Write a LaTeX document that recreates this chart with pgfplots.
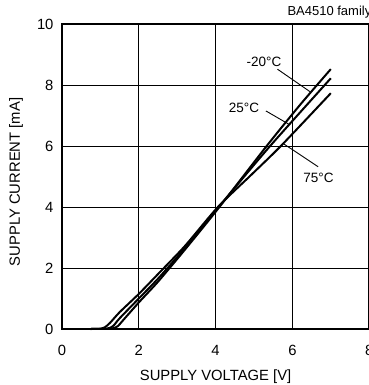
\documentclass[border=0pt]{standalone}
\usepackage{fontspec}
\setmainfont{Liberation Sans}
\usepackage{pgfplots}
\pgfplotsset{compat=1.18}
\begin{document}
\begin{tikzpicture}
\begin{axis}[
  name=ax,
  scale only axis,
  width=307.2pt, height=305pt,
  xmin=0, xmax=8, ymin=0, ymax=10,
  xtick={0,2,4,6,8}, ytick={0,2,4,6,8,10},
  grid=major,
  major grid style={black, line width=0.7pt},
  axis line style={line width=2.2pt},
  tick style={black, line width=0.7pt},
  tick align=inside,
  major tick length=4pt,
  font=\fontsize{14.8}{17}\selectfont,
  /pgf/number format/assume math mode=true,
  xticklabel style={yshift=-13pt},
  yticklabel style={xshift=-5pt},
  xlabel={SUPPLY VOLTAGE [V]},
  ylabel={SUPPLY CURRENT [mA]},
  xlabel style={at={(axis description cs:0.5,0)}, anchor=north, yshift=-37pt},
  ylabel style={at={(axis description cs:-0.1497,0.482)}, anchor=center},
  clip=false,
]
% -20 C
\addplot[black, line width=2pt, smooth, tension=0.4] coordinates {
 (0.75,0) (1.2,0.005) (1.35,0.03) (1.46,0.1) (1.6,0.3) (2,0.87) (2.5,1.55) (3.2,2.6) (4.1,4.0) (5.33,6.0) (6.2,7.35) (7,8.52)
};
% 25 C
\addplot[black, line width=2pt, smooth, tension=0.4] coordinates {
 (0.75,0) (1.1,0.005) (1.25,0.04) (1.35,0.12) (1.5,0.35) (2,1.0) (2.5,1.65) (3.2,2.65) (4.08,4.0) (5.42,6.0) (7,8.22)
};
% 75 C
\addplot[black, line width=2pt, smooth, tension=0.4] coordinates {
 (0.75,0) (1.0,0.01) (1.12,0.06) (1.25,0.2) (1.5,0.55) (2,1.15) (2.5,1.8) (3.2,2.72) (4.06,4.0) (4.9,5.02) (5.7,6.0) (7,7.73)
};
\draw[black, line width=0.9pt] (axis cs:5.61,8.52) -- (axis cs:6.46,7.78);
\draw[black, line width=0.9pt] (axis cs:5.31,7.15) -- (axis cs:5.94,6.69);
\draw[black, line width=0.9pt] (axis cs:6.67,5.32) -- (axis cs:5.75,6.09);
\node[font=\fontsize{13.5}{15}\selectfont, inner sep=0pt] at (axis cs:5.26,8.76) {-20°C};
\node[font=\fontsize{13.5}{15}\selectfont, inner sep=0pt] at (axis cs:4.74,7.24) {25°C};
\node[font=\fontsize{13.5}{15}\selectfont, inner sep=0pt] at (axis cs:6.68,4.94) {75°C};
\end{axis}
\node[anchor=base west, inner sep=0pt, font=\fontsize{13}{15}\selectfont] at ([xshift=225.3pt,yshift=8pt]ax.north west) {BA4510 family};
\pgfresetboundingbox
\path ([xshift=-62pt,yshift=-56pt]ax.south west) rectangle ([xshift=-0.5pt,yshift=24pt]ax.north east);
\end{tikzpicture}
\end{document}
